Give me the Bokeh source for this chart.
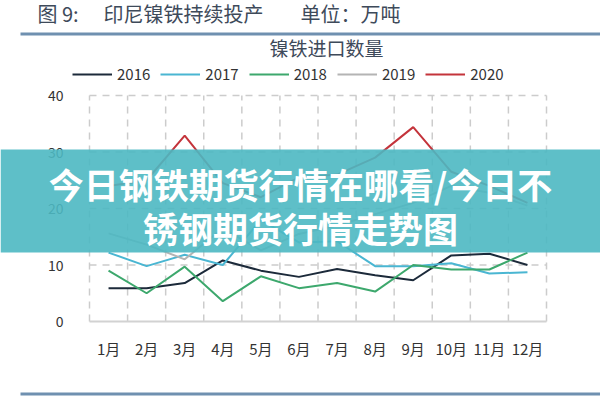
from bokeh.plotting import figure
from bokeh.models import Label, BoxAnnotation, Legend, LegendItem, Range1d
from bokeh.core.properties import value
from bokeh.embed import file_html
from bokeh.resources import INLINE

# ---- data ----
months = ["1月", "2月", "3月", "4月", "5月", "6月", "7月", "8月", "9月", "10月", "11月", "12月"]
years = ["2016", "2017", "2018", "2019", "2020"]
y2016 = [5.9, 5.9, 6.8, 10.8, 9.0, 7.9, 9.3, 8.2, 7.3, 11.7, 12.0, 10.0]
y2017 = [12.2, 9.8, 11.8, 10.0, 18.0, 14.0, 14.2, 9.8, 9.8, 10.3, 8.5, 8.7]
y2018 = [9.0, 5.0, 9.7, 3.6, 8.0, 5.9, 6.8, 5.3, 10.0, 9.2, 9.2, 12.2]
y2019 = [15.6, 13.6, 11.0, 16.5, 12.6, 15.5, 17.0, 19.0, 21.0, 24.0, 22.8, 20.5]
y2020 = [24.0, 25.0, 32.9, 24.5, 22.0, 25.5, 26.0, 29.0, 34.4, 26.5, 24.0, 21.0]
yticks = [0, 10, 20, 30, 40]
series = [y2016, y2017, y2018, y2019, y2020]
colors = ["#1c2a3a", "#4ab6d2", "#3da86d", "#b4b4b4", "#c4343b"]

FONT = "Noto Sans CJK SC"
W, H = 600, 400
# plotting area (value box) in canvas pixels
PX_L, PX_R, PY_T, PY_B = 89, 546, 95, 321
n = len(months)
y_lo, y_hi = yticks[0], yticks[-1]
xs = (PX_R - PX_L) / n
ys = (PY_B - PY_T) / (y_hi - y_lo)

p = figure(width=W, height=H, output_backend="svg", toolbar_location=None,
           x_axis_location=None, y_axis_location=None,
           x_range=Range1d(0.5 - PX_L / xs, n + 0.5 + (W - PX_R) / xs),
           y_range=Range1d(y_lo - (H - PY_B) / ys, y_hi + PY_T / ys),
           min_border=0)
p.outline_line_color = None
p.background_fill_color = "white"
p.border_fill_color = "white"
p.grid.visible = False

x = list(range(1, n + 1))

# grid lines (value space)
gx = [i + 0.5 for i in range(n + 1)]
p.segment(x0=gx, y0=[y_lo] * len(gx), x1=gx, y1=[y_hi] * len(gx),
          line_color="#cccccc", line_width=1.5, line_dash="7 6")
p.segment(x0=[0.5] * 4, y0=yticks[1:], x1=[n + 0.5] * 4, y1=yticks[1:],
          line_color="#cccccc", line_width=1.5, line_dash="7 6")
p.segment(x0=[0.5], y0=[y_lo], x1=[n + 0.5], y1=[y_lo], line_color="#d2d2d2", line_width=2)

# tick labels
p.text(x=[0.5] * len(yticks), y=yticks, text=[str(t) for t in yticks], x_offset=-26,
       text_align="right", text_baseline="middle", text_font=value(FONT),
       text_font_size="14px", text_color="#333333")
p.text(x=x, y=[y_lo] * n, text=months, y_offset=27,
       text_align="center", text_baseline="middle", text_font=value(FONT),
       text_font_size="15px", text_color="#333333")

renderers = []
for ys_, c in zip(series, colors):
    r = p.line(x, ys_, line_color=c, line_width=2)
    renderers.append(r)

legend = Legend(items=[LegendItem(label=yr, renderers=[r]) for yr, r in zip(years, renderers)],
                orientation="horizontal", location=(72, H - 84),
                padding=0, margin=0, spacing=10, label_standoff=5,
                glyph_width=40, glyph_height=20, label_height=20,
                border_line_color=None, background_fill_alpha=0,
                label_text_font=FONT, label_text_font_size="15px", label_text_color="#333333")
p.add_layout(legend)


def box(left, right, top, bottom, color, alpha=1.0):
    return BoxAnnotation(left=left, right=right, top=H - top, bottom=H - bottom,
                         left_units="screen", right_units="screen",
                         top_units="screen", bottom_units="screen",
                         fill_color=color, fill_alpha=alpha, line_color=None)


def label(px, py, text, size, color, align="left", style="normal"):
    return Label(x=px, y=H - py, x_units="screen", y_units="screen", text=text,
                 text_align=align, text_baseline="middle", text_font=FONT,
                 text_font_size=size, text_color=color, text_font_style=style)


# header
p.add_layout(label(37, 13, "图 9:", "20px", "#3e4a5a"))
p.add_layout(label(103, 13, "印尼镍铁持续投产", "20px", "#3e4a5a"))
p.add_layout(label(300, 13, "单位：万吨", "20px", "#3e4a5a"))
p.add_layout(box(20, 600, 32, 35, "#6f90b0"))
p.add_layout(label(326, 47, "镍铁进口数量", "19px", "#3e4a5a", align="center"))
p.add_layout(box(20, 600, 392, 395, "#6f90b0"))

# banner
p.add_layout(box(0, 600, 149, 252, "#4db8c2", 0.9))
p.add_layout(label(300, 183, "今日钢铁期货行情在哪看/今日不", "35px", "white", align="center", style="bold"))
p.add_layout(label(300, 227, "锈钢期货行情走势图", "35px", "white", align="center", style="bold"))

open("out.html", "w").write(file_html(p, INLINE))
